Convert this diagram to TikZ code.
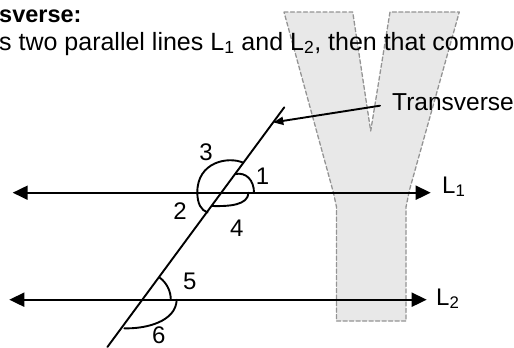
\documentclass[tikz,border=0pt]{standalone}
\usepackage{fontspec}
\setmainfont{Liberation Sans}
\usetikzlibrary{arrows.meta}

\begin{document}
\begin{tikzpicture}[x=1pt,y=-1pt,line cap=round,line join=round,
  txt/.style={font=\fontsize{24}{28}\selectfont,inner sep=0pt},
  ang/.style={line width=1.9pt},
  lne/.style={line width=1.9pt,{Triangle[length=15pt,width=14pt]}-{Triangle[length=15pt,width=14pt]}}]
  \useasboundingbox (0,0) rectangle (514,348);
  % the shaded Y behind everything
  \filldraw[fill=black!9,draw=black!42,line width=1.3pt,dash pattern=on 4pt off 2.5pt]
    (284,12) -- (352.7,12) -- (370.7,131) -- (390,12) -- (459.3,12) -- (409.5,190)
    -- (406,207) -- (406,321) -- (336.5,321) -- (336.5,207) -- (333.5,193) -- cycle;
  % heading text
  \node[txt,anchor=base west,font=\fontsize{23.5}{28}\selectfont\bfseries] (head) at (-1,22.5) {sverse:};
  \node[txt,anchor=base west,font=\fontsize{25}{28}\selectfont] (body) at (-1,50)
    {s two parallel lines L\textsubscript{1} and L\textsubscript{2}, then that commo};
  % the two parallel lines
  \coordinate (l1a) at (12.7,192.7);
  \coordinate (l1b) at (430.7,192.7);
  \coordinate (l2a) at (9.3,299.7);
  \coordinate (l2b) at (426.7,299.7);
  \draw[lne] (l1a) -- (l1b);
  \draw[lne] (l2a) -- (l2b);
  \node[txt,anchor=base west] (lab1) at (442,193) {L\textsubscript{1}};
  \node[txt,anchor=base west] (lab2) at (436,305) {L\textsubscript{2}};
  % transversal
  \coordinate (ta) at (107.4,347);
  \coordinate (tb) at (284.3,107.3);
  \coordinate (tip) at (273.3,122.4);
  \draw[line width=1.9pt] (ta) -- (tb);
  \node[txt,anchor=base west,font=\fontsize{24.5}{28}\selectfont] (tv) at (392,110) {Transverse};
  \draw[line width=1.9pt,-{Triangle[length=10pt,width=8pt]}] ([xshift=-12pt,yshift=-4pt]tv.west) -- (tip);
  % angles at the upper crossing
  \draw[ang] (243.3,162.7) .. controls (228,156) and (197,162) .. (197.3,192.7);
  \draw[ang] (197.3,192.7) .. controls (197.5,204) and (201,210) .. (207.5,212.5);
  \draw[ang] (235.4,174) .. controls (246,172) and (254,180) .. (254,192.7);
  \draw[ang] (211.9,206) .. controls (230,206.5) and (248,205) .. (248.5,192.7);
  % angles at the lower crossing
  \draw[ang] (143.3,299.7) ++(-53.7:27.5) arc[start angle=-53.7,end angle=0,radius=27.5];
  \draw[ang] (124.3,328.3) .. controls (145,329) and (176,322) .. (176.7,299.7);
  % angle numbers
  \node[txt] (n1) at (262.5,176.7) {1};
  \node[txt] (n2) at (180,211.5) {2};
  \node[txt] (n3) at (206,152) {3};
  \node[txt] (n4) at (236.7,228.7) {4};
  \node[txt] (n5) at (189.7,281.7) {5};
  \node[txt] (n6) at (158.8,335.5) {6};
\end{tikzpicture}
\end{document}
